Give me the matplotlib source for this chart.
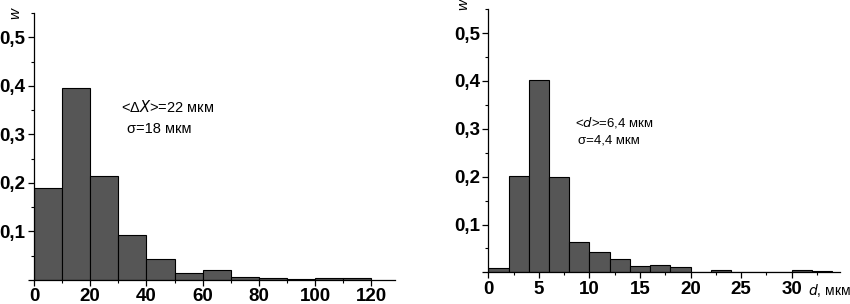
import matplotlib
matplotlib.use("Agg")
import matplotlib.pyplot as plt
from matplotlib.ticker import MultipleLocator, FuncFormatter

# left histogram: displacement, bins of 10 um
dx_edges = [0, 10, 20, 30, 40, 50, 60, 70, 80, 90, 100, 110]
dx_w = [0.189, 0.395, 0.215, 0.093, 0.044, 0.014, 0.020, 0.007, 0.0035, 0.0015, 0.005, 0.005]

# right histogram: diameter, bins of 2 um
d_edges = [0, 2, 4, 6, 8, 10, 12, 14, 16, 18, 20, 22, 24, 26, 28, 30, 32]
d_w = [0.010, 0.201, 0.401, 0.200, 0.063, 0.042, 0.028, 0.0125, 0.015, 0.0105,
       0.001, 0.004, 0.001, 0.001, 0.001, 0.005, 0.003]

plt.rcParams["font.family"] = ["Liberation Sans", "DejaVu Sans"]

BAR = "#565656"
comma = FuncFormatter(lambda v, p: "" if abs(v) < 1e-9 else f"{v:.1f}".replace(".", ","))


def style(ax, xmax, xmajor, xminor):
    for s in ("top", "right"):
        ax.spines[s].set_visible(False)
    for s in ("left", "bottom"):
        ax.spines[s].set_linewidth(0.9)
    ax.set_ylim(0, 0.55)
    ax.set_xlim(0, xmax)
    ax.yaxis.set_major_locator(MultipleLocator(0.1))
    ax.yaxis.set_minor_locator(MultipleLocator(0.05))
    ax.yaxis.set_major_formatter(comma)
    ax.xaxis.set_major_locator(MultipleLocator(xmajor))
    ax.xaxis.set_minor_locator(MultipleLocator(xminor))
    ax.tick_params(which="major", length=4, width=0.9, labelsize=13.5, pad=2)
    ax.tick_params(which="minor", length=2.5, width=0.8)
    for lab in ax.get_xticklabels() + ax.get_yticklabels():
        lab.set_fontweight("bold")


fig = plt.figure(figsize=(8.5, 3.04), dpi=100)

ax1 = fig.add_axes([0.040, 0.079, 0.425, 0.878])
ax1.bar(dx_edges, dx_w, width=10, align="edge", color=BAR, edgecolor="black", linewidth=0.8)
style(ax1, 128.5, 20, 10)
ax1.set_xticks([0, 20, 40, 60, 80, 100, 120])
for lab in ax1.get_xticklabels():
    lab.set_fontweight("bold")
ax1.text(0.242, 0.629, "<Δ$\\it{X}$>=22 мкм", transform=ax1.transAxes, fontsize=10.5)
ax1.text(0.258, 0.549, "σ=18 мкм", transform=ax1.transAxes, fontsize=10.5)
fig.text(0.018, 0.955, "w", rotation=90, style="italic", fontsize=11, ha="center", va="center")

ax2 = fig.add_axes([0.5745, 0.104, 0.414, 0.866])
ax2.bar(d_edges, d_w, width=2, align="edge", color=BAR, edgecolor="black", linewidth=0.8)
style(ax2, 34.8, 5, 2.5)
ax2.set_xticks([0, 5, 10, 15, 20, 25, 30])
for lab in ax2.get_xticklabels():
    lab.set_fontweight("bold")
ax2.text(0.245, 0.553, "<$\\it{d}$>=6,4 мкм", transform=ax2.transAxes, fontsize=9.5)
ax2.text(0.255, 0.49, "σ=4,4 мкм", transform=ax2.transAxes, fontsize=9.5)
fig.text(0.545, 0.985, "w", rotation=90, style="italic", fontsize=11, ha="center", va="center")
fig.text(0.951, 0.046, "$\\it{d}$, мкм", fontsize=10, ha="left", va="center")

fig.savefig("out.png", dpi=100)
